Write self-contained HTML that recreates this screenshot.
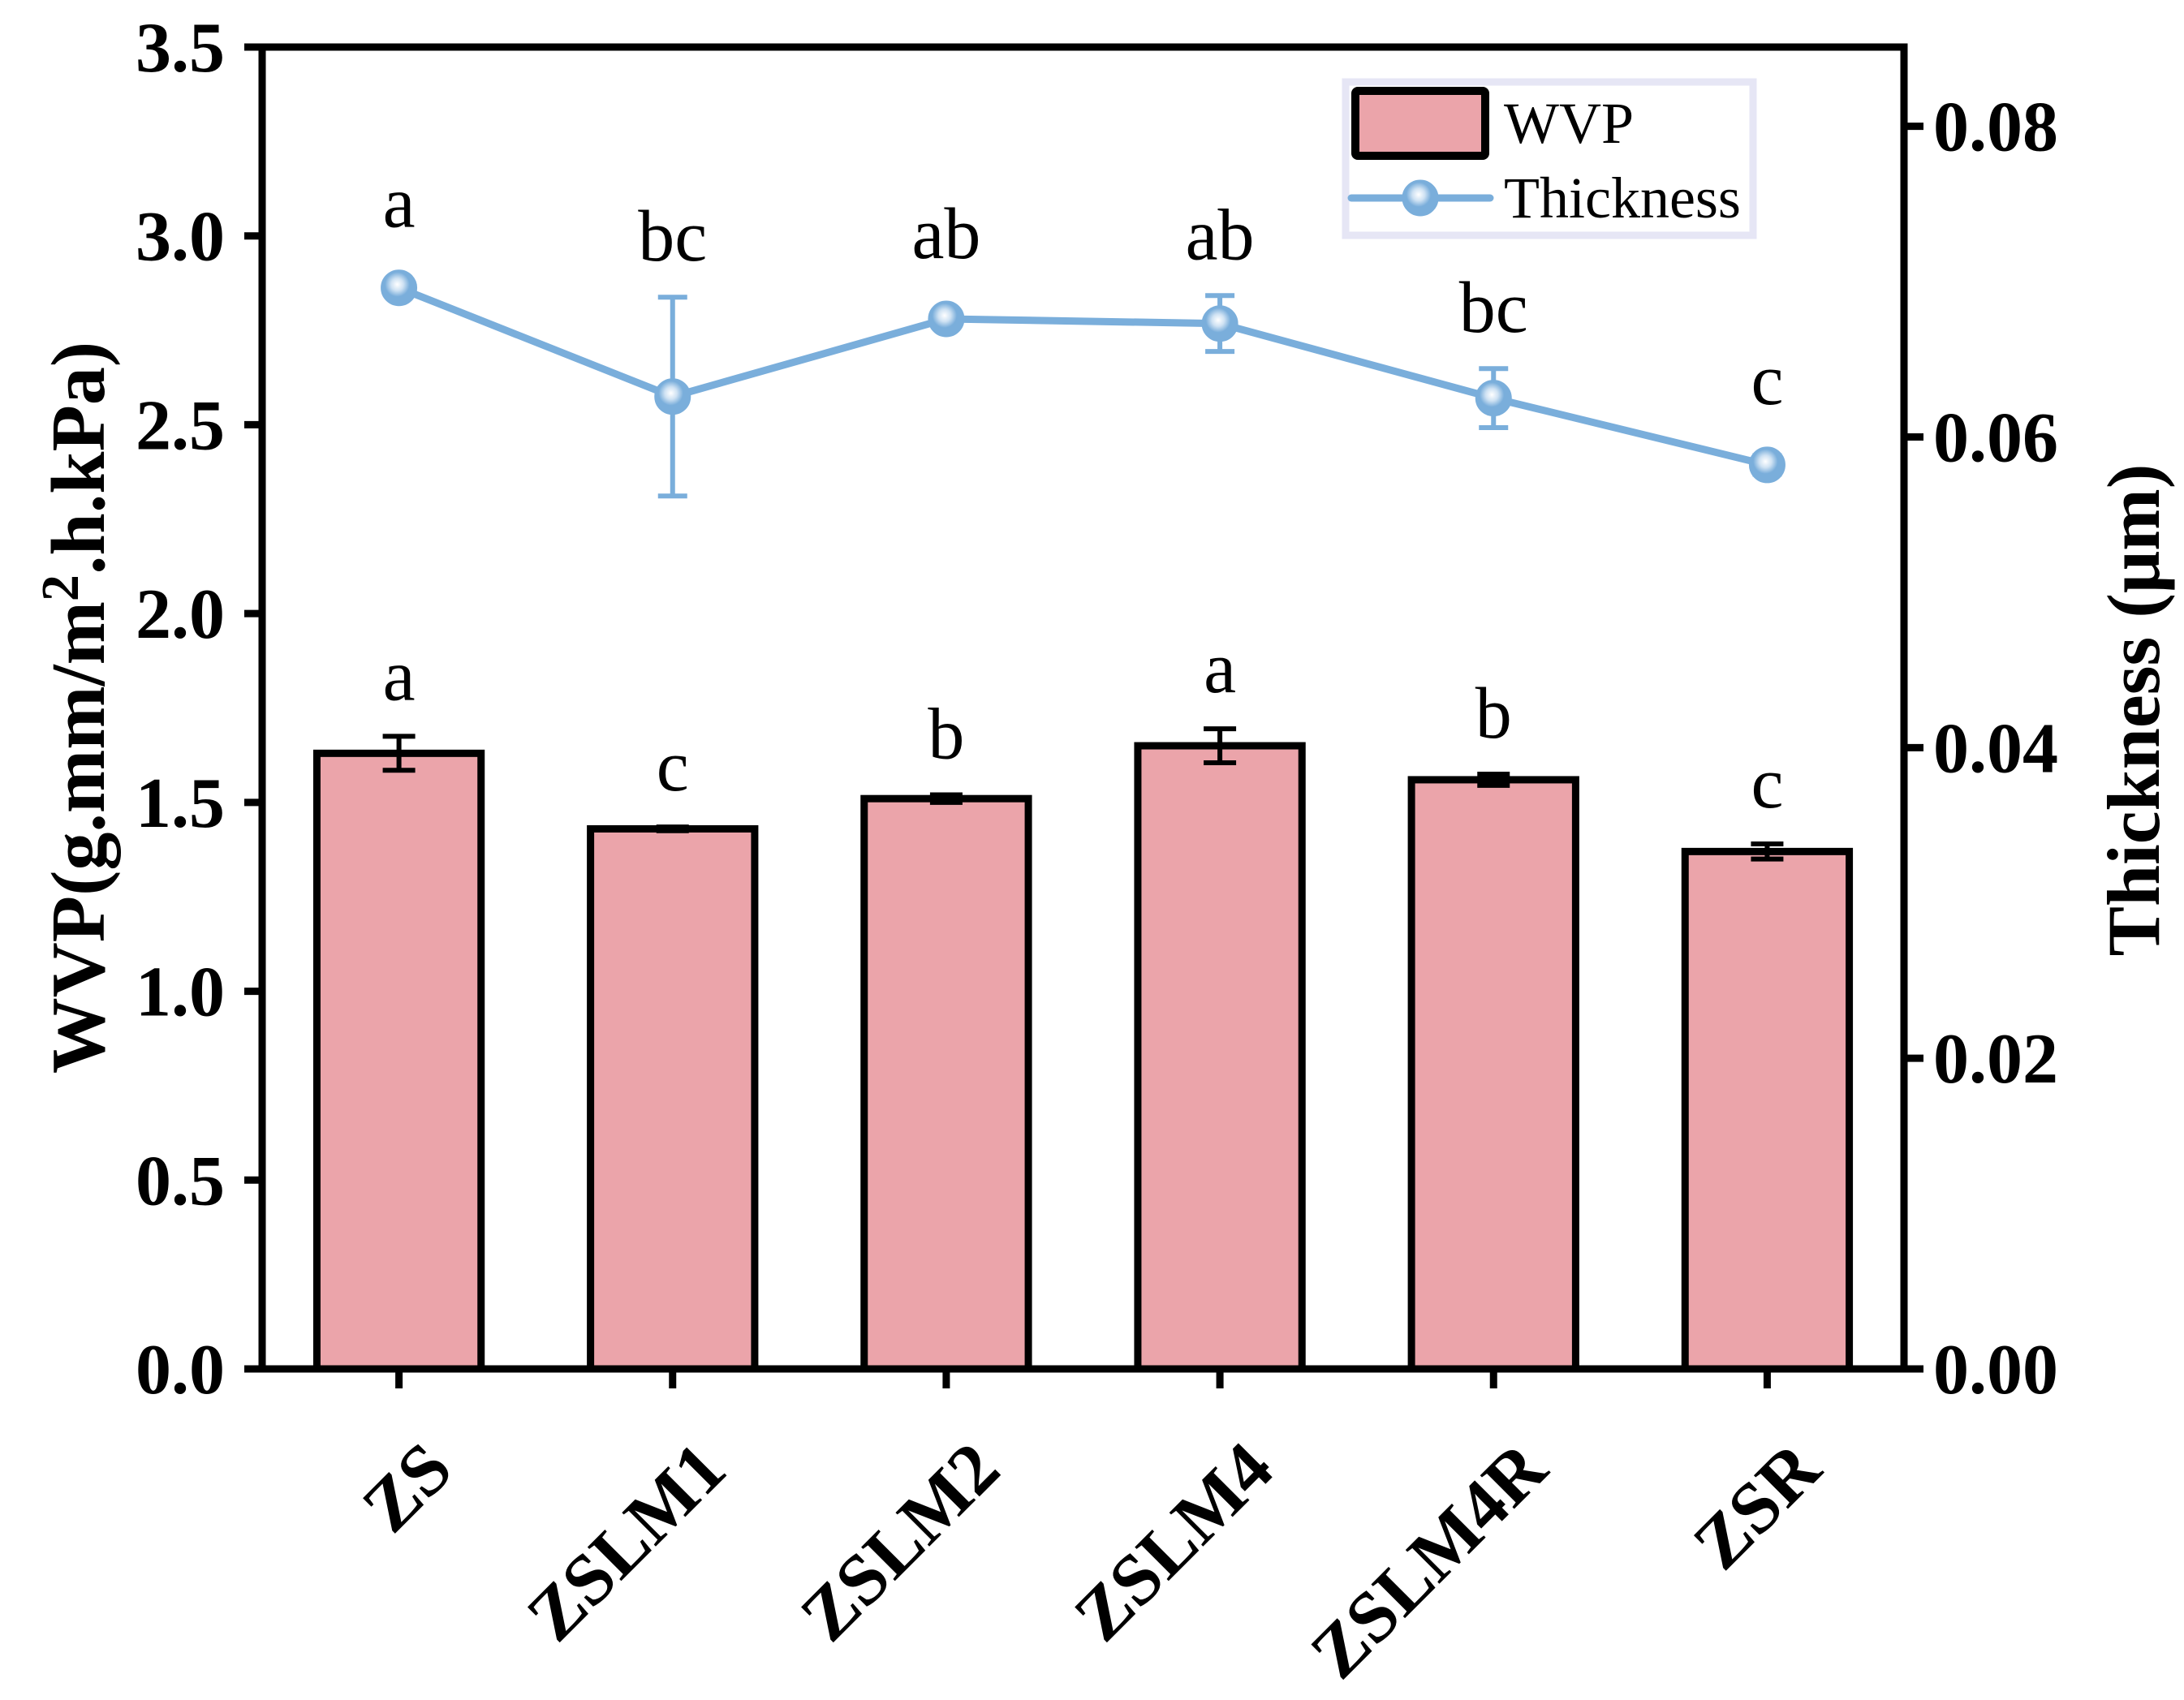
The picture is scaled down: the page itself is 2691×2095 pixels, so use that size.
<!DOCTYPE html>
<html><head><meta charset="utf-8"><style>
html,body{margin:0;padding:0;background:#fff;}
svg{display:block;font-family:"Liberation Serif",serif;}
</style></head><body>
<svg id="chart" width="2691" height="2095" viewBox="0 0 2691 2095">
<defs>
<radialGradient id="mk" cx="0.45" cy="0.4" r="0.6">
<stop offset="0" stop-color="#ffffff"/><stop offset="0.3" stop-color="#cfe2f3"/><stop offset="0.6" stop-color="#7aaedb"/><stop offset="1" stop-color="#7aaedb"/>
</radialGradient>
</defs>
<g id="plot"></g>
</svg>
<script>
const categories = ["ZS","ZSLM1","ZSLM2","ZSLM4","ZSLM4R","ZSR"];
const wvp = [1.63,1.43,1.51,1.65,1.56,1.37];
const wvpErr = [0.045,0.005,0.01,0.045,0.015,0.02];
const wvpLetters = ["a","c","b","a","b","c"];
const thick = [0.0696,0.0626,0.0676,0.0673,0.0625,0.0582];
const thickErr = [0.0005,0.0064,0.0003,0.0018,0.0019,0.0006];
const thickLetters = ["a","bc","ab","ab","bc","c"];
const leftTicks = ["0.0","0.5","1.0","1.5","2.0","2.5","3.0","3.5"];
const rightTicks = ["0.00","0.02","0.04","0.06","0.08"];

const NS="http://www.w3.org/2000/svg";
const L=323,R=2346,T=58,B=1687;
const yMax=3.5, y2Max=0.0851;
const band=(R-L)/categories.length;
const xS=i=>L+band*(i+0.5);
const yL=v=>B-(v/yMax)*(B-T);
const yR=v=>B-(v/y2Max)*(B-T);
const g=document.getElementById('plot');
function mk(tag,attrs,parent){const e=document.createElementNS(NS,tag);for(const k in attrs)e.setAttribute(k,attrs[k]);(parent||g).appendChild(e);return e;}

// bars
categories.forEach((c,i)=>{
  const bw=band*0.6, x=xS(i)-bw/2, y=yL(wvp[i]);
  const r=mk('rect',{x:x,y:y,width:bw,height:B-y,fill:'#eba4aa',stroke:'#000','stroke-width':9});
  
  
  const eh=yL(wvp[i]+wvpErr[i]), el=yL(wvp[i]-wvpErr[i]);
  const e=mk('path',{d:`M${xS(i)} ${eh}V${el}M${xS(i)-20} ${eh}H${xS(i)+20}M${xS(i)-20} ${el}H${xS(i)+20}`,stroke:'#000','stroke-width':6,fill:'none'});
  
  
  const t=mk('text',{x:xS(i),y:eh-45,'text-anchor':'middle','font-size':90});
  t.textContent=wvpLetters[i];
  
  
});

// thickness line
const pts=thick.map((v,i)=>`${xS(i)},${yR(v)}`).join(' ');
const ln=mk('polyline',{points:pts,fill:'none',stroke:'#7aaedb','stroke-width':9});


thick.forEach((v,i)=>{
  const cx=xS(i), eh=yR(v+thickErr[i]), el=yR(v-thickErr[i]);
  const e=mk('path',{d:`M${cx} ${eh}V${el}M${cx-18} ${eh}H${cx+18}M${cx-18} ${el}H${cx+18}`,stroke:'#7aaedb','stroke-width':6,fill:'none'});
  
  
  const c=mk('circle',{cx:cx,cy:yR(v),r:21,fill:'url(#mk)',stroke:'#7aaedb','stroke-width':3});
  
  
  const t=mk('text',{x:cx,y:Math.min(eh,yR(v)-30)-45,'text-anchor':'middle','font-size':90});
  t.textContent=thickLetters[i];
  
  
});

// axes
const ax=mk('path',{d:`M${L} ${T}H${R}V${B}H${L}Z`,fill:'none',stroke:'#000','stroke-width':9});


leftTicks.forEach(s=>{
  const y=yL(parseFloat(s));
  const tk=mk('line',{x1:L-22,x2:L,y1:y,y2:y,stroke:'#000','stroke-width':9});
  
  
  const t=mk('text',{x:L-46,y:y+30,'text-anchor':'end','font-size':88,'font-weight':'bold'});
  t.textContent=s;
  
  
});
rightTicks.forEach(s=>{
  const y=yR(parseFloat(s));
  const tk=mk('line',{x1:R,x2:R+24,y1:y,y2:y,stroke:'#000','stroke-width':9});
  
  
  const t=mk('text',{x:R+36,y:y+30,'text-anchor':'start','font-size':88,'font-weight':'bold'});
  t.textContent=s;
  
  
});
categories.forEach((c,i)=>{
  const x=xS(i);
  const tk=mk('line',{x1:x,x2:x,y1:B,y2:B+24,stroke:'#000','stroke-width':9});
  
  
  const ax_=x+70, ay=B+128;
  const t=mk('text',{x:ax_,y:ay,'text-anchor':'end','font-size':90,'font-weight':'bold',transform:`rotate(-45 ${ax_} ${ay})`});
  t.textContent=c;
  
  
});

// axis titles
const yt=mk('text',{x:0,y:0,'text-anchor':'middle','font-size':94,'font-weight':'bold',transform:'translate(128 872) rotate(-90)'});
yt.innerHTML='WVP(g.mm/m<tspan dy="-32" font-size="66">2</tspan><tspan dy="32">.h.kPa)</tspan>';


const y2=mk('text',{x:0,y:0,'text-anchor':'middle','font-size':92,'font-weight':'bold',transform:'translate(2660 875) rotate(-90)'});
y2.textContent='Thickness (μm)';



// legend
const lg=mk('g',{});


mk('rect',{x:1658,y:101,width:502,height:189,fill:'#fff',stroke:'#e6e6f5','stroke-width':9},lg);
const sw=mk('rect',{x:1670,y:112,width:160,height:80,fill:'#eba4aa',stroke:'#000','stroke-width':10,rx:3},lg);


const t1=mk('text',{x:1853,y:176,'font-size':72},lg);
t1.textContent='WVP';


mk('line',{x1:1665,x2:1836,y1:244,y2:244,stroke:'#7aaedb','stroke-width':9,'stroke-linecap':'round'},lg);
mk('circle',{cx:1750,cy:244,r:21,fill:'url(#mk)',stroke:'#7aaedb','stroke-width':3},lg);
const t2=mk('text',{x:1853,y:268,'font-size':72},lg);
t2.textContent='Thickness';


</script>
</body></html>
